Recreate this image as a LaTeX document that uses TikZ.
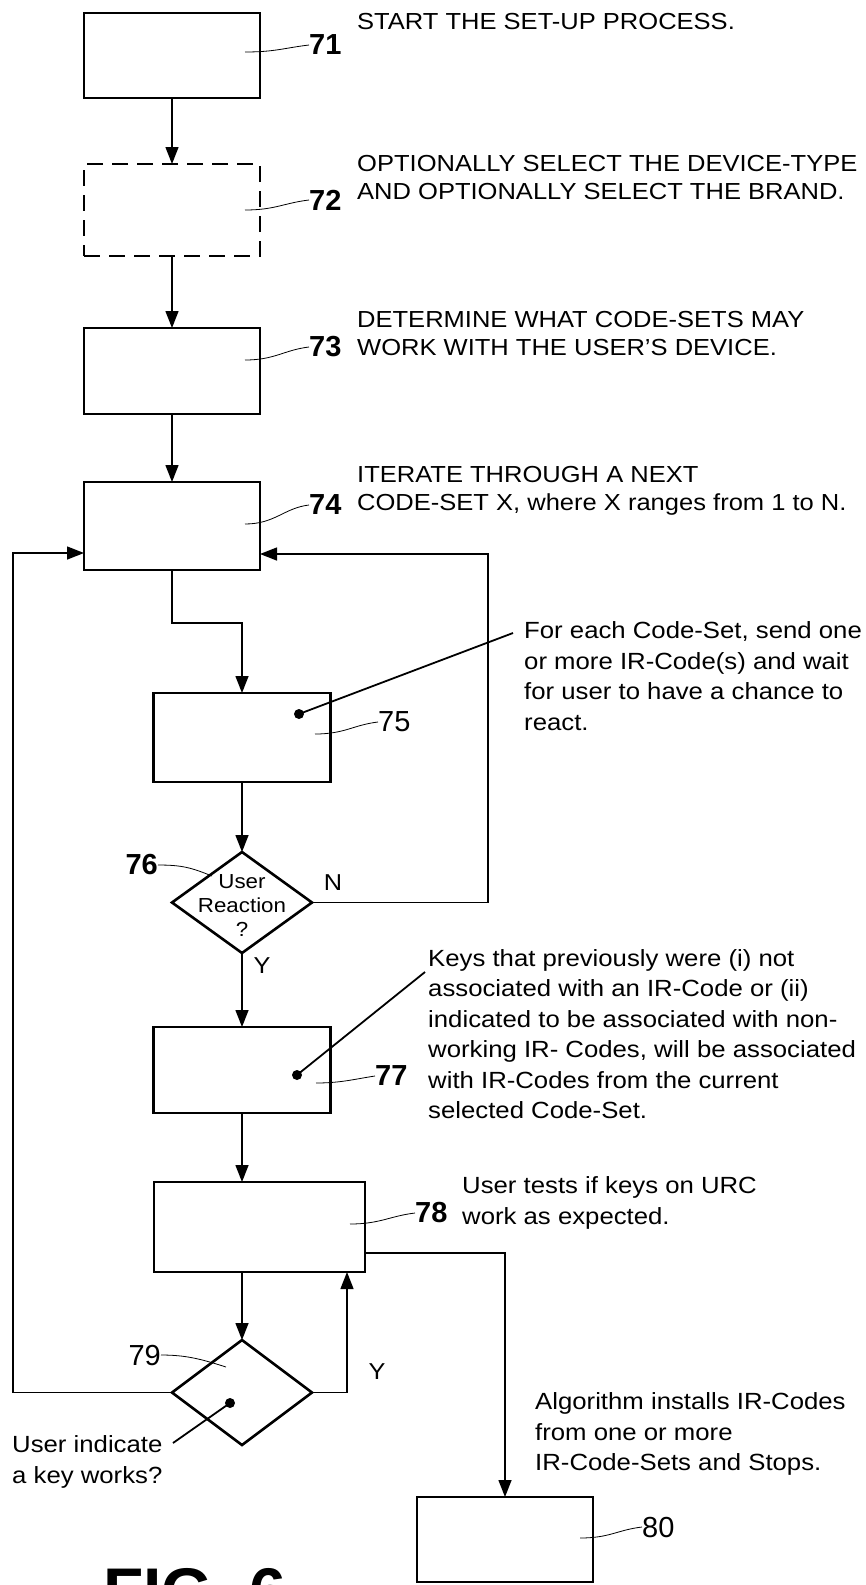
\documentclass[tikz,border=0pt]{standalone}
\usepackage{fontspec}
\setmainfont{Liberation Sans}
\newfontfamily\txt{Liberation Sans}[FakeStretch=1.1]
\usetikzlibrary{shapes.geometric,arrows.meta}
\begin{document}
\begin{tikzpicture}[x=1pt,y=-1pt,
  box/.style={draw,line width=2.6pt,minimum width=176pt,minimum height=86pt,inner sep=0pt,outer sep=0pt},
  dbox/.style={box,dash pattern=on 16pt off 9pt},
  dia/.style={draw,diamond,line width=2.6pt,minimum width=140pt,minimum height=101pt,inner sep=0pt,outer sep=0pt},
  conn/.style={line width=1.4pt},
  arr/.style={conn,-{Triangle[length=17pt,width=13pt]}},
  lead/.style={line width=0.8pt},
  ptr/.style={line width=1.8pt},
  dotn/.style={circle,fill,inner sep=0pt,minimum size=10pt},
  captxt/.style={font=\txt\fontsize{23.2}{28}\selectfont,align=left,anchor=west,inner sep=0pt},
  notetxt/.style={font=\txt\fontsize{23.4}{30.5}\selectfont,align=left,anchor=west,inner sep=0pt},
  numtxt/.style={font=\bfseries\fontsize{29}{29}\selectfont,inner sep=0pt,anchor=west},
  yntxt/.style={font=\txt\fontsize{23}{23}\selectfont,inner sep=0pt},
]
\clip (0,0) rectangle (866,1585);
% boxes
\node[box,minimum height=85pt] (b71) at (172,55.5) {};
\node[dbox,minimum height=92pt] (b72) at (172,210) {};
\node[box] (b73) at (172,371) {};
\node[box,minimum height=88pt] (b74) at (172,526) {};
\node[box,minimum width=177pt,minimum height=89pt] (b75) at (242,737.5) {};
\node[dia] (d76) at (242,902.5) {};
\node[box,minimum width=177pt] (b77) at (242,1070) {};
\node[box,minimum width=211pt,minimum height=90pt] (b78) at (259.5,1227) {};
\node[dia,minimum height=105pt] (d79) at (242,1392.5) {};
\node[box,minimum height=85pt] (b80) at (505,1539.5) {};
% diamond text
\node[font=\txt\fontsize{20.3}{24}\selectfont,align=center,inner sep=0pt] (q76) at (242,906) {User\\Reaction\\?};
% helper coordinates
\coordinate (jog) at (200,623);
\coordinate (r1) at (488,554);
\coordinate (l1) at (13,553);
\coordinate (u1) at (347,1272);
\coordinate (e1) at (505,1253);
% connectors
\draw[arr] (b71.south) -- (b72.north);
\draw[arr] (b72.south) -- (b73.north);
\draw[arr] (b73.south) -- (b74.north);
\draw[arr] (b74.south) |- (jog) -| (b75.north);
\draw[arr] (b75.south) -- (d76.north);
\draw[arr] (d76.south) -- (b77.north);
\draw[arr] (d76.east) -| (r1) -- (b74.east |- r1);
\draw[arr] (b77.south) -- (b77.south |- b78.north);
\draw[arr] (d79.north |- b78.south) -- (d79.north);
\draw[arr] (d79.east) -| (u1);
\draw[arr] (d79.west) -| (l1) -- (b74.west |- l1);
\draw[arr] (b78.east |- e1) -- (e1) -- (b80.north);
% Y / N
\node[yntxt] (N76) at (333,883) {N};
\node[yntxt] (Y76) at (262,966) {Y};
\node[yntxt] (Y79) at (377,1372) {Y};
% reference numerals
\node[numtxt] (n71) at (309,45) {71};
\node[numtxt] (n72) at (309,200) {72};
\node[numtxt] (n73) at (309,347) {73};
\node[numtxt] (n74) at (309,505) {74};
\node[numtxt,font=\fontsize{29}{29}\selectfont] (n75) at (378,722) {75};
\node[numtxt,anchor=east] (n76) at (158,865) {76};
\node[numtxt] (n77) at (375,1076) {77};
\node[numtxt] (n78) at (415,1213) {78};
\node[numtxt,font=\fontsize{29}{29}\selectfont,anchor=east] (n79) at (161,1355) {79};
\node[numtxt,font=\fontsize{29}{29}\selectfont] (n80) at (642,1527) {80};
\coordinate (c71) at (245,52);
\coordinate (c72) at (245,210);
\coordinate (c73) at (245,360);
\coordinate (c74) at (245,524);
\coordinate (c75) at (315,734);
\coordinate (c76) at (212,876);
\coordinate (c77) at (316,1083);
\coordinate (c78) at (350,1224);
\coordinate (c79) at (226,1367);
\coordinate (c80) at (580,1538);
\draw[lead] (c71) .. controls +(30,0) and +(-25,3) .. (n71.west);
\draw[lead] (c72) .. controls +(30,0) and +(-25,3) .. (n72.west);
\draw[lead] (c73) .. controls +(30,0) and +(-25,3) .. (n73.west);
\draw[lead] (c74) .. controls +(30,0) and +(-25,3) .. (n74.west);
\draw[lead] (c75) .. controls +(30,0) and +(-25,3) .. (n75.west);
\draw[lead] (c77) .. controls +(25,0) and +(-20,3) .. (n77.west);
\draw[lead] (c78) .. controls +(30,0) and +(-25,3) .. (n78.west);
\draw[lead] (c80) .. controls +(30,0) and +(-25,3) .. (n80.west);
\draw[lead] (n76.east) .. controls +(25,0) and +(-20,-8) .. (c76);
\draw[lead] (n79.east) .. controls +(25,0) and +(-25,-8) .. (c79);
% dots and pointers
\node[dotn] (dot75) at (299,714) {};
\node[dotn] (dot77) at (297,1075) {};
\node[dotn] (dot79) at (230,1403) {};
\coordinate (e75) at (513,633);
\coordinate (e77) at (425,972);
\coordinate (e79) at (173,1443);
\draw[ptr] (dot75.center) -- (e75);
\draw[ptr] (dot77.center) -- (e77);
\draw[ptr] (dot79.center) -- (e79);
% texts
\node[captxt] (t71) at (357,22) {START THE SET-UP PROCESS.};
\node[captxt] (t72) at (357,178) {OPTIONALLY SELECT THE DEVICE-TYPE\\AND OPTIONALLY SELECT THE BRAND.};
\node[captxt] (t73) at (357,334) {DETERMINE WHAT CODE-SETS MAY\\WORK WITH THE USER’S DEVICE.};
\node[captxt] (t74) at (357,491) {ITERATE THROUGH A NEXT\\CODE-SET X, where X ranges from 1 to N.};
\node[notetxt] (t75) at (524,676) {For each Code-Set, send one\\or more IR-Code(s) and wait\\for user to have a chance to\\react.};
\node[notetxt] (t77) at (428,1034) {Keys that previously were (i) not\\associated with an IR-Code or (ii)\\indicated to be associated with non-\\working IR- Codes, will be associated\\with IR-Codes from the current\\selected Code-Set.};
\node[notetxt] (t78) at (462,1203) {User tests if keys on URC\\work as expected.};
\node[notetxt] (t80) at (535,1434) {Algorithm installs IR-Codes\\from one or more\\IR-Code-Sets and Stops.};
\node[notetxt] (t79) at (12,1462) {User indicate\\a key works?};
\node[font=\bfseries\fontsize{66}{66}\selectfont,anchor=north west,inner sep=0pt] (fig) at (103,1568) {FIG. 6};
\end{tikzpicture}
\end{document}
